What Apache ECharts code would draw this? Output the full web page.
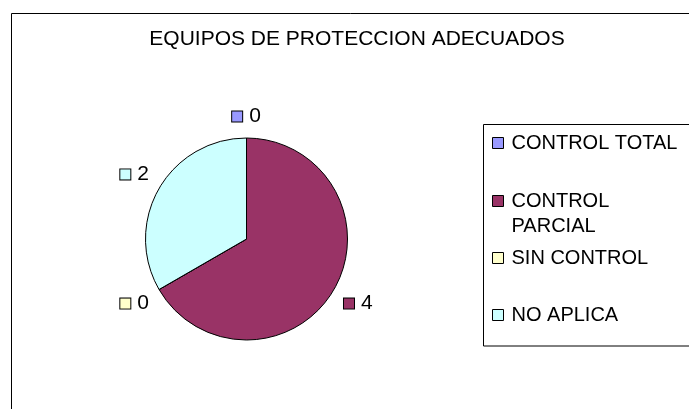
<!DOCTYPE html>
<html>
<head>
<meta charset="utf-8">
<script src="https://cdn.jsdelivr.net/npm/echarts@6/dist/echarts.min.js"></script>
<style>html,body{margin:0;padding:0;background:#fff}#c{width:689px;height:409px}</style>
</head>
<body>
<div id="c"></div>
<script>
const titleText = 'EQUIPOS DE PROTECCION ADECUADOS';
const categories = ['CONTROL TOTAL', 'CONTROL PARCIAL', 'SIN CONTROL', 'NO APLICA'];
const values = [0, 4, 0, 2];
const colors = ['#9999FF', '#993366', '#FFFFCC', '#CCFFFF'];
const legendText = ['CONTROL TOTAL', '\nCONTROL\nPARCIAL', 'SIN CONTROL', 'NO APLICA'];

const FONT = '"Liberation Sans", Arial, sans-serif';
const CX = 246.5, CY = 239, R = 101, GAP = 11;
const legendCenters = [143, 201, 258, 315];

const chart = echarts.init(document.getElementById('c'), null, {renderer: 'canvas'});
const total = values.reduce((a, b) => a + b, 0);

const rich = {};
colors.forEach((c, i) => {
  rich['s' + i] = {width: 10, height: 10, backgroundColor: c, borderColor: '#000', borderWidth: 1};
});
rich.v = {fontSize: 21, lineHeight: 16, color: '#000', fontFamily: FONT, padding: [0, 0, 0, 7]};

const legends = categories.map((name, i) => {
  const lines = legendText[i].split('\n').length;
  const lh = 25;
  return {
    show: true,
    orient: 'vertical',
    left: 492,
    top: legendCenters[i] - (lines * lh) / 2,
    padding: 0,
    data: [name],
    icon: 'rect',
    itemWidth: 11,
    itemHeight: 11,
    selectedMode: false,
    formatter: () => legendText[i],
    textStyle: {fontSize: 20, lineHeight: lh, color: '#000', fontFamily: FONT, padding: [0, 0, 0, 3]},
    itemStyle: {borderColor: '#000', borderWidth: 1}
  };
});

chart.setOption({
  backgroundColor: '#fff',
  animation: false,
  title: {
    text: titleText,
    left: 357,
    top: 27,
    padding: 0,
    textAlign: 'center',
    textStyle: {fontSize: 21, fontWeight: 'normal', color: '#000', fontFamily: FONT, lineHeight: 24}
  },
  legend: legends,
  graphic: [
    {type: 'rect', shape: {x: 11.5, y: 13.5, width: 1000, height: 1000}, style: {fill: 'none', stroke: '#000', lineWidth: 1}, silent: true, z: -1},
    {type: 'rect', shape: {x: 483.5, y: 124.5, width: 400, height: 221.5}, style: {fill: 'none', stroke: '#000', lineWidth: 1}, silent: true, z: -1}
  ],
  series: [{
    type: 'pie',
    center: [CX, CY],
    radius: R,
    startAngle: 90,
    clockwise: true,
    avoidLabelOverlap: false,
    minAngle: 0,
    itemStyle: {borderColor: '#000', borderWidth: 1},
    label: {
      show: true,
      position: 'outside',
      formatter: p => '{s' + p.dataIndex + '|}{v|' + p.value + '}',
      rich: rich
    },
    labelLine: {show: false},
    emphasis: {disabled: true},
    labelLayout: function (p) {
      const i = p.dataIndex;
      let acc = 0;
      for (let j = 0; j < i; j++) acc += values[j];
      const mid = (acc + values[i] / 2) / total * Math.PI * 2;
      const ang = Math.PI / 2 - mid;
      const c = Math.cos(ang), s = Math.sin(ang);
      const w = p.labelRect.width / 2, h = p.labelRect.height / 2;
      const ex = Math.abs(c) > 1e-6 ? w / Math.abs(c) : Infinity;
      const ey = Math.abs(s) > 1e-6 ? h / Math.abs(s) : Infinity;
      const rr = R + GAP + Math.min(ex, ey);
      return {x: CX + rr * c, y: CY - rr * s, align: 'center', verticalAlign: 'middle'};
    },
    data: categories.map((name, i) => ({name: name, value: values[i], itemStyle: {color: colors[i]}}))
  }]
});
</script>
</body>
</html>
